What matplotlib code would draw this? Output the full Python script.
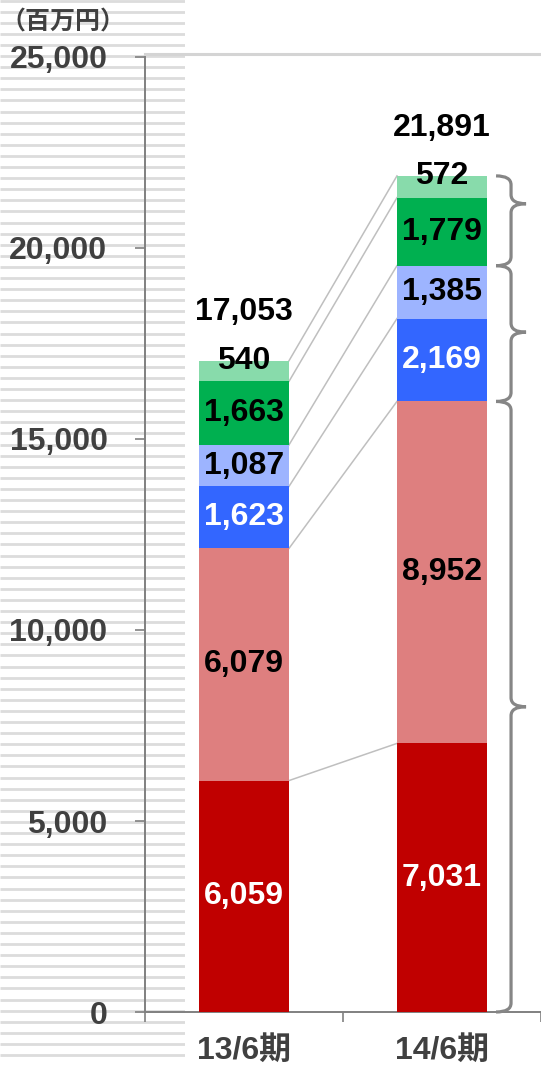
import numpy as np
import matplotlib
matplotlib.use('Agg')
import matplotlib.pyplot as plt
from matplotlib.path import Path
from matplotlib.patches import PathPatch

plt.rcParams['font.family'] = ['Liberation Sans', 'Noto Sans CJK JP']
plt.rcParams['font.weight'] = 'bold'

# data (百万円)
periods = ['13/6期', '14/6期']
seg_13 = [6059, 6079, 1623, 1087, 1663, 540]
seg_14 = [7031, 8952, 2169, 1385, 1779, 572]
totals = [17053, 21891]
y_ticks = [0, 5000, 10000, 15000, 20000, 25000]

seg_colors = ['#C00000', '#DE7F7F', '#3366FF', '#9DB4FF', '#00B050', '#88DBAB']
label_colors = ['white', 'black', 'white', 'black', 'black', 'black']

W, H = 541, 1065
fig = plt.figure(figsize=(W / 100, H / 100), dpi=100)

# striped panel at the left
bg = fig.add_axes([0, 0, 185 / W, 1], zorder=0)
bg.set_xlim(0, 185)
bg.set_ylim(H, 0)
bg.hlines(np.arange(0.5, H, 11.1), 0, 185, color='#dcdcdc', lw=2.0)
bg.axis('off')

ax = fig.add_axes([145 / W, (H - 1012) / H, (W - 145) / W, (1012 - 57) / H], zorder=1)
ax.patch.set_alpha(0)

bar_w = 0.455
x = np.arange(len(periods))
py = 25000 / 955   # data units per pixel (y)
px = 1 / 198       # data units per pixel (x)
fs = 23

for xi, segs in zip(x, [seg_13, seg_14]):
    bottom = 0
    for i, v in enumerate(segs):
        ax.bar(xi, v, bar_w, bottom=bottom, color=seg_colors[i], zorder=3)
        yl = bottom + v if i == len(segs) - 1 else bottom + v / 2
        ax.text(xi, yl, f'{v:,}', ha='center', va='center', fontsize=fs,
                color=label_colors[i], zorder=5)
        bottom += v

for xi, t in zip(x, totals):
    ax.annotate(f'{t:,}', (xi, sum([seg_13, seg_14][xi])), xytext=(0, 24),
                textcoords='offset points', ha='center', va='bottom',
                fontsize=fs, color='black')

# connecting lines between the two bars
c13 = np.cumsum(seg_13)
c14 = np.cumsum(seg_14)
for a, b in zip(c13, c14):
    ax.plot([x[0] + bar_w / 2, x[1] - bar_w / 2], [a, b], color='#BFBFBF',
            lw=1.1, zorder=2)


def brace(x0, y_top, y_bot, tip_frac):
    x1 = x0 + 15 * px
    x2 = x0 + 30 * px
    r = 9 * py
    y_tip = y_top - (y_top - y_bot) * tip_frac
    verts = [(x0, y_top), (x1, y_top), (x1, y_top - r),
             (x1, y_tip + r), (x1, y_tip), (x2, y_tip),
             (x1, y_tip), (x1, y_tip - r),
             (x1, y_bot + r), (x1, y_bot), (x0, y_bot)]
    codes = [Path.MOVETO, Path.CURVE3, Path.CURVE3,
             Path.LINETO, Path.CURVE3, Path.CURVE3,
             Path.CURVE3, Path.CURVE3,
             Path.LINETO, Path.CURVE3, Path.CURVE3]
    ax.add_patch(PathPatch(Path(verts, codes), fill=False, ec='#868686',
                           lw=2.3, clip_on=False, zorder=4))


bx = x[1] + bar_w / 2 + 9 * px
brace(bx, c14[5], c14[3], 0.31)
brace(bx, c14[3], c14[1], 0.49)
brace(bx, c14[1], 0, 0.5)

# axes styling
ax.set_xlim(-0.5, 1.5)
ax.set_ylim(0, 25000)
ax.axhline(25000 + 3 * py, color='#d4d4d4', lw=2.2, clip_on=False, zorder=1)
ax.set_yticks(y_ticks)
ax.set_yticklabels([f'{v:,}' for v in y_ticks], fontsize=fs, color='#404040')
ax.tick_params(axis='y', length=7, width=1.2, color='#808080', pad=20)
ax.set_xticks(x)
ax.set_xticklabels(periods, fontsize=fs, color='#404040')
ax.tick_params(axis='x', which='major', length=0, pad=17)
ax.set_xticks([-0.5, 0.5, 1.5], minor=True)
ax.tick_params(axis='x', which='minor', length=7, width=1.2, color='#808080')
for s in ['top', 'right']:
    ax.spines[s].set_visible(False)
for s in ['left', 'bottom']:
    ax.spines[s].set_color('#808080')
    ax.spines[s].set_linewidth(1.4)

fig.text(0.0, 1 - 22 / H, '（百万円）', ha='left', va='center', fontsize=18,
         color='#404040')

fig.savefig('out.png', dpi=100)
